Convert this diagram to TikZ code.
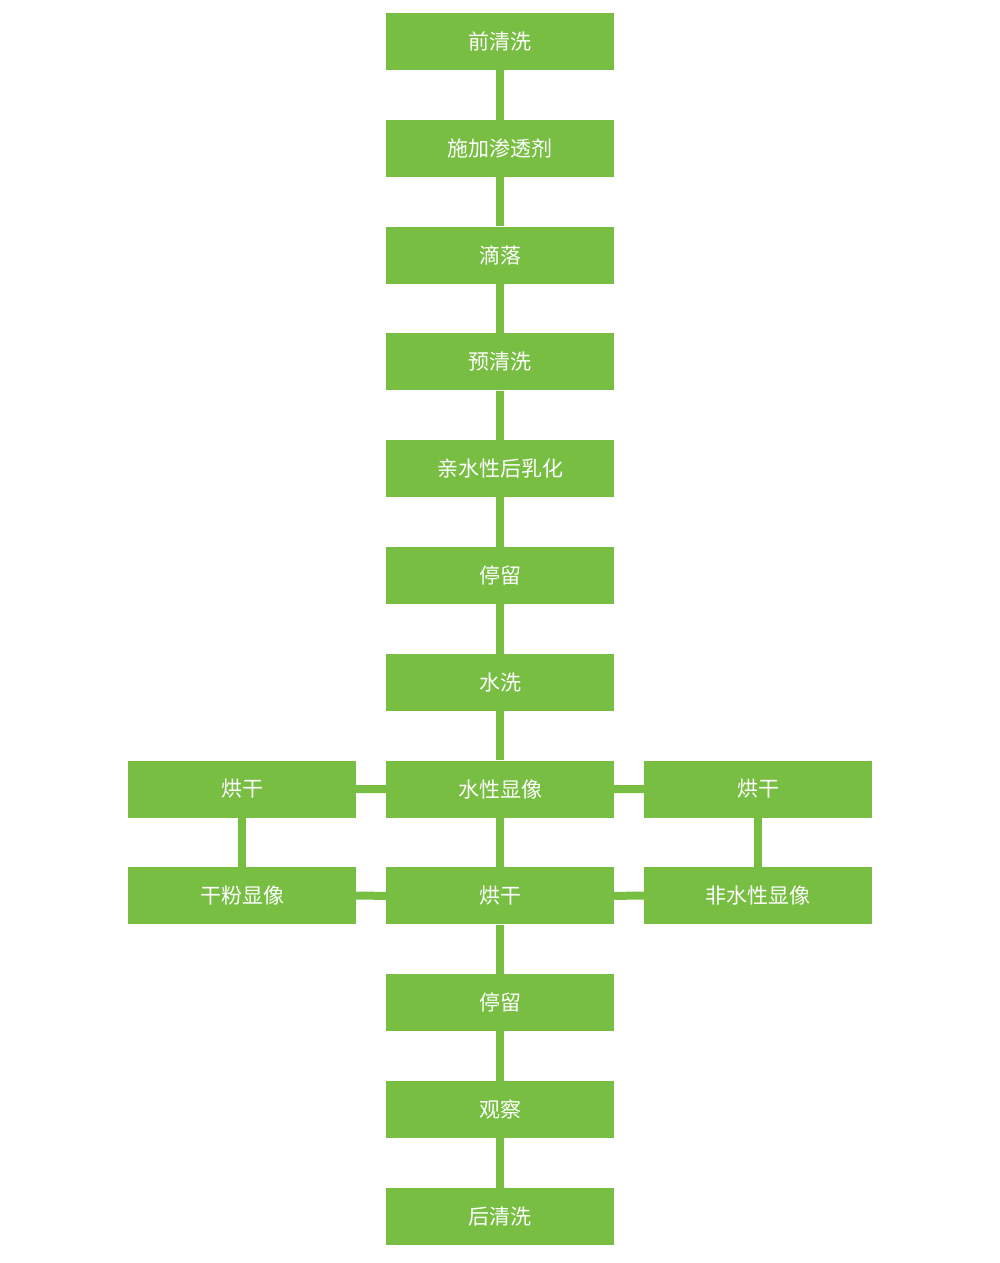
\documentclass[tikz,border=0pt]{standalone}
\usepackage{fontspec}
\newfontfamily\cjk{Noto Sans CJK SC}
\definecolor{g}{HTML}{77BE43}
\begin{document}
\begin{tikzpicture}[x=1pt,y=-1pt,
 bx/.style={fill=g,minimum width=228pt,minimum height=57pt,inner sep=0pt,text=white,font=\cjk\fontsize{21}{24}\selectfont},
 ln/.style={draw=g,line width=8pt}]
\useasboundingbox (0,0) rectangle (1000,1263);
\foreach \n/\t [count=\i from 0] in {a/前清洗,b/施加渗透剂,c/滴落/停留,d/预清洗,e/亲水性后乳化,f/停留,g/水洗,h/水性显像,k/烘干,l/停留,m/观察,n/后清洗}{
 \node[bx] (\n) at (500,{41.5+106.8*\i}) {\t};}
\node[bx] (lh) at (242,789) {烘干};
\node[bx] (lk) at (242,895.5) {干粉显像};
\node[bx] (rh) at (758,789) {烘干};
\node[bx] (rk) at (758,895.5) {非水性显像};
\foreach \p/\q in {a/b,b/c,c/d,d/e,e/f,f/g,g/h,h/k,k/l,l/m,m/n,lh/lk,rh/rk}{\draw[ln] (\p.south) -- (\q.north);}
\foreach \p/\q in {lh/h,lk/k,h/rh,k/rk}{\draw[ln] (\p.east) -- (\q.west);}
\end{tikzpicture}
\end{document}
